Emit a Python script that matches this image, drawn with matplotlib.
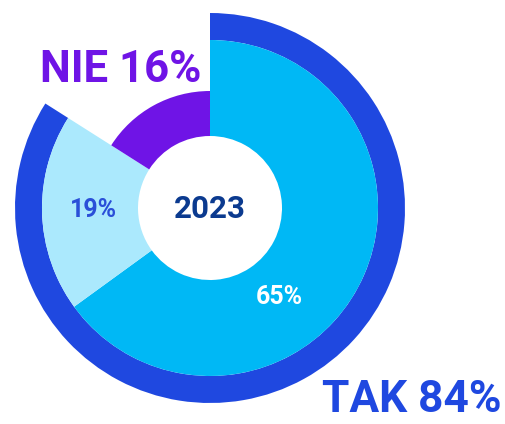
import matplotlib
matplotlib.use("Agg")
import matplotlib.pyplot as plt

# Data
outer_values = [84, 16]          # TAK / NIE
inner_values = [65, 19, 16]      # segments of inner pie
inner_labels = ["65%", "19%", ""]
year = "2023"
tak_label = "TAK 84%"
nie_label = "NIE 16%"

DARK = "#1f48e0"
LIGHT = "#00b8f5"
PALE = "#abe9fd"
PURPLE = "#6f14e6"
NAVY = "#0b3a8f"

W, H = 505, 424
fig = plt.figure(figsize=(W / 100, H / 100), dpi=100)
ax = fig.add_axes([0, 0, 1, 1])

cx, cy = 210, H - 208
cond = ["Roboto", "DejaVu Sans"]

# outer ring
ax.pie(outer_values, radius=195, center=(cx, cy), startangle=90, counterclock=False,
       colors=[DARK, "none"], wedgeprops=dict(width=27, linewidth=0))
# inner pie (65 and 19)
ax.pie(inner_values, radius=168, center=(cx, cy), startangle=90, counterclock=False,
       colors=[LIGHT, PALE, "none"], wedgeprops=dict(width=96, linewidth=0))
# purple smaller segment
ax.pie([inner_values[0] + inner_values[1], inner_values[2]], radius=117, center=(cx, cy),
       startangle=90, counterclock=False,
       colors=["none", PURPLE], wedgeprops=dict(width=45, linewidth=0))

ax.set_xlim(0, W)
ax.set_ylim(0, H)
ax.set_aspect("equal")
ax.axis("off")

ax.text(279, H - 297, inner_labels[0], ha="center", va="center", fontsize=18,
        fontweight="bold", family=["Roboto", "DejaVu Sans"], color="white")
ax.text(93, H - 210, inner_labels[1], ha="center", va="center", fontsize=18,
        fontweight="bold", family=["Roboto", "DejaVu Sans"], color="#2a4fd8")

fig.canvas.draw()
renderer = fig.canvas.get_renderer()


def fit_text(x, y, s, width_px, max_size, color, ha="left", va="baseline"):
    t = ax.text(x, y, s, ha=ha, va=va, fontsize=max_size, fontweight="bold",
                family=cond, color=color)
    w = t.get_window_extent(renderer).width
    if w > width_px:
        t.set_fontsize(max_size * width_px / w)
    return t


fit_text(cx, cy - 1, year, 72, 28, NAVY, ha="center", va="center")
fit_text(40, H - 82, nie_label, 162, 44, PURPLE)
fit_text(322, H - 412, tak_label, 180, 44, DARK)

fig.savefig("out.png", dpi=100)
